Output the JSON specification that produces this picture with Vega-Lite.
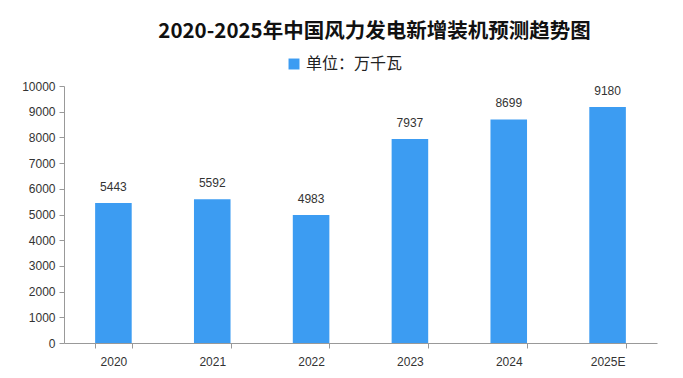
{
  "$schema": "https://vega.github.io/schema/vega-lite/v6.json",
  "width": 593,
  "height": 257,
  "padding": {"left": 21, "top": 21, "right": 26, "bottom": 5},
  "background": "white",
  "title": {
    "text": "2020-2025年中国风力发电新增装机预测趋势图",
    "font": "Noto Sans CJK SC",
    "fontSize": 20.5,
    "fontWeight": "bold",
    "color": "#111",
    "anchor": "middle",
    "dx": 14,
    "offset": 14
  },
  "data": {
    "values": [
      {"year": "2020", "value": 5443, "unit": "单位：万千瓦"},
      {"year": "2021", "value": 5592, "unit": "单位：万千瓦"},
      {"year": "2022", "value": 4983, "unit": "单位：万千瓦"},
      {"year": "2023", "value": 7937, "unit": "单位：万千瓦"},
      {"year": "2024", "value": 8699, "unit": "单位：万千瓦"},
      {"year": "2025E", "value": 9180, "unit": "单位：万千瓦"}
    ]
  },
  "encoding": {
    "x": {
      "field": "year",
      "type": "nominal",
      "sort": null,
      "scale": {"paddingInner": 0.63, "paddingOuter": 0.315},
      "axis": {
        "title": null,
        "labelAngle": 0,
        "labelFont": "Liberation Sans",
        "labelFontSize": 12,
        "labelColor": "#333",
        "labelPadding": 8,
        "domainColor": "#999",
        "tickColor": "#999",
        "tickBand": "extent",
        "tickSize": 5
      }
    },
    "y": {
      "field": "value",
      "type": "quantitative",
      "scale": {"domain": [0, 10000], "nice": false},
      "axis": {
        "title": null,
        "values": [0, 1000, 2000, 3000, 4000, 5000, 6000, 7000, 8000, 9000, 10000],
        "format": "d",
        "grid": false,
        "labelFont": "Liberation Sans",
        "labelFontSize": 12,
        "labelColor": "#333",
        "labelPadding": 4,
        "domainColor": "#999",
        "tickColor": "#999",
        "tickSize": 5
      }
    }
  },
  "layer": [
    {
      "mark": {"type": "bar"},
      "encoding": {
        "color": {
          "field": "unit",
          "type": "nominal",
          "scale": {"range": ["#3c9cf2"]},
          "legend": {
            "title": null,
            "orient": "none",
            "legendX": 222,
            "legendY": -30,
            "symbolType": "square",
            "symbolSize": 120,
            "labelFont": "Noto Sans CJK SC",
            "labelFontSize": 16,
            "labelColor": "#222"
          }
        }
      }
    },
    {
      "mark": {
        "type": "text",
        "baseline": "bottom",
        "dy": -9,
        "font": "Liberation Sans",
        "fontSize": 12,
        "color": "#333"
      },
      "encoding": {"text": {"field": "value", "type": "quantitative", "format": "d"}}
    }
  ],
  "config": {"view": {"stroke": null}}
}
